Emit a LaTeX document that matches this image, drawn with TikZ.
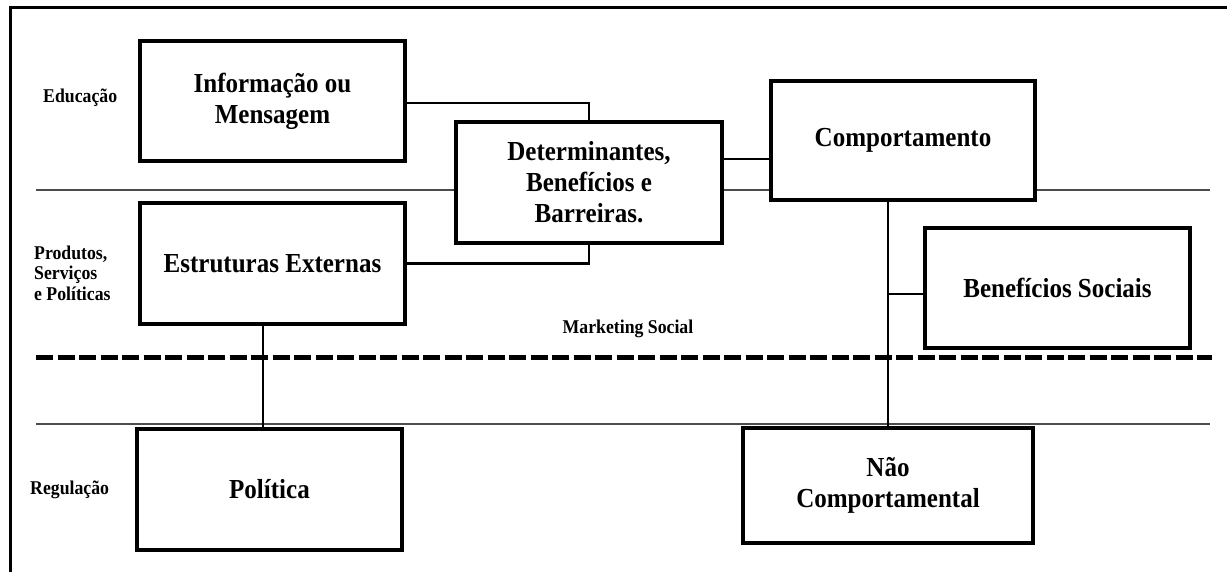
\documentclass[tikz,border=0pt]{standalone}
\usepackage{fontspec}
\setmainfont{Liberation Serif}[FakeStretch=0.91]
\usetikzlibrary{backgrounds}
\begin{document}
\begin{tikzpicture}[x=1pt,y=-1pt,
  box/.style={draw,line width=3.2pt,fill=white,inner sep=0pt,outer sep=0pt,
    align=center,font=\bfseries\fontsize{27.5}{31}\selectfont},
  side/.style={inner sep=0pt,align=left,font=\bfseries\fontsize{19.5}{20.5}\selectfont},
  conn/.style={line width=2.8pt},
  band/.style={line width=1.6pt,draw=black!70},
  split/.style={line width=5pt,dash pattern=on 17pt off 4.5pt}]
\useasboundingbox (0,0) rectangle (1227,572);
% boxes
\node[box,minimum width=265pt,minimum height=120pt] (info) at (272.5,101) {Informação ou\\Mensagem};
\node[box,minimum width=266pt,minimum height=121pt] (det) at (589,182.5) {Determinantes,\\Benefícios e\\Barreiras.};
\node[box,minimum width=264pt,minimum height=119pt] (comp) at (903,140.5) {Comportamento};
\node[box,minimum width=265pt,minimum height=121pt] (estr) at (272.5,263.5) {Estruturas Externas};
\node[box,minimum width=265pt,minimum height=120pt] (bens) at (1057.5,288) {Benefícios Sociais};
\node[box,minimum width=265pt,minimum height=121pt] (pol) at (269.5,489.5) {Política};
\node[box,minimum width=290pt,minimum height=115pt] (nao) at (888,485.5) {Não\\Comportamental};
% side labels
\node[side,anchor=west] (edu) at (43,98) {Educação};
\node[side,anchor=west] (prod) at (34,273) {Produtos,\\Serviços\\e Políticas};
\node[side,anchor=west] (reg) at (30,490) {Regulação};
\node[side,anchor=center] (ms) at (628,329) {Marketing Social};
% frame, bands and split line behind the boxes
\begin{pgfonlayer}{background}
  \draw[line width=3pt] (10,572) -- (10,8) -- (1227,8);
  \coordinate (b1l) at (36,190); \coordinate (b1r) at (1210,190);
  \coordinate (b2l) at (36,424); \coordinate (b2r) at (1210,424);
  \coordinate (dl) at (36,357); \coordinate (dr) at (1212,357);
  \draw[band] (b1l) -- (b1r);
  \draw[band] (b2l) -- (b2r);
  \draw[split] (dl) -- (dr);
\end{pgfonlayer}
% connectors
\draw[conn] ([yshift=-2pt]info.east) -| (det.north);
\draw[conn] (estr.east) -| (det.south);
\draw[conn] (det.east |- 0,159) -- (comp.west |- 0,159);
\draw[conn] (nao.north) -- (nao.north |- comp.south);
\coordinate (bj) at (888,294);
\draw[conn] (bj) -- (bj -| bens.west);
\draw[conn] (estr.south -| 263,0) -- (pol.north -| 263,0);
\end{tikzpicture}
\end{document}
